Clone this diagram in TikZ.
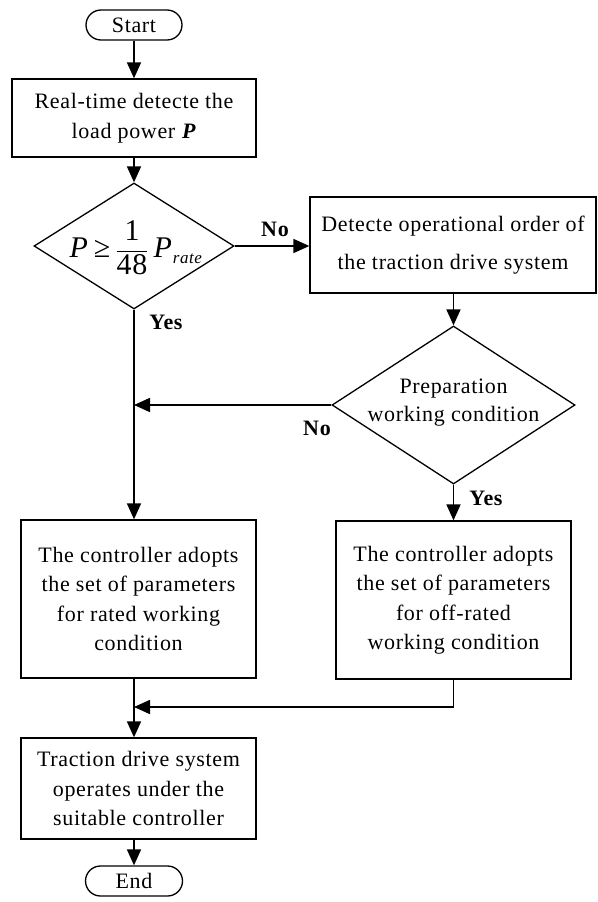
\documentclass[tikz,border=0pt]{standalone}
\usepackage{fontspec}
\setmainfont{Liberation Serif}[LetterSpace=3]
\usetikzlibrary{shapes.geometric,arrows.meta}
\begin{document}
\begin{tikzpicture}[x=1pt,y=-1pt,
  base/.style={draw,line width=1.3pt,inner sep=0pt,align=center,font=\fontsize{22}{29.5}\selectfont},
  term/.style={base,rectangle,rounded corners=15pt,minimum height=30pt},
  proc/.style={base,rectangle},
  dec/.style={base,diamond},
  txt/.style={inner sep=0pt,align=center,font=\fontsize{22}{28}\selectfont},
  arr/.style={line width=1.7pt,-{Triangle[length=16pt,width=14pt]}},
  lab/.style={inner sep=0pt,font=\fontsize{22}{24}\selectfont\bfseries}
]
\useasboundingbox (0,0) rectangle (597,902);
% nodes
\node[term,minimum width=96pt] (start) at (134,25) {Start};
\node[proc,minimum width=244pt,minimum height=78pt] (b1) at (134,118)
  {Real-time detecte the\\load power \textbf{\textit{P}}};
\node[dec,minimum width=200pt,minimum height=126pt] (d1) at (134,246) {};
\node[inner sep=0pt,font=\fontsize{30}{32}\selectfont] (f1) at (136,248)
  {\textit{P}\,≥\,$\displaystyle\frac{\hbox{1}}{\hbox{48}}$\,\textit{P}\raisebox{-0.4ex}{\fontsize{17}{17}\selectfont\textit{rate}}};
\node[proc,minimum width=286pt,minimum height=96pt,font=\fontsize{22}{38}\selectfont] (b2) at (453,245)
  {Detecte operational order of\\the traction drive system};
\node[dec,minimum width=243pt,minimum height=158pt] (d2) at (453.5,405) {};
\node[txt] (t2) at (453.5,403) {Preparation\\working condition};
\node[proc,minimum width=235pt,minimum height=158pt] (b3) at (138.5,599)
  {The controller adopts\\the set of parameters\\for rated working\\condition};
\node[proc,minimum width=235pt,minimum height=158pt] (b4) at (453.5,600)
  {The controller adopts\\the set of parameters\\for off-rated\\working condition};
\node[proc,minimum width=235pt,minimum height=101pt] (b5) at (138.5,788.5)
  {Traction drive system\\operates under the\\suitable controller};
\node[term,minimum width=97pt] (end) at (134,881) {End};
% labels
\node[lab] (no1) at (275,229) {No};
\node[lab] (yes1) at (166,322) {Yes};
\node[lab] (no2) at (317,428) {No};
\node[lab] (yes2) at (486,498) {Yes};
\coordinate (m) at (134,707);
% connectors
\draw[arr] (start) -- (b1);
\draw[arr] (b1) -- (d1);
\draw[arr] (d1.east) -- (b2.west |- d1.east);
\draw[arr] (b2.south -| d2.north) -- (d2.north);
\draw[arr] (d1.south) -- (d1.south |- b3.north);
\draw[arr] (d2.west) -- (d2.west -| d1.south);
\draw[arr] (d2.south) -- (b4.north -| d2.south);
\draw[arr] (b3.south -| d1.south) -- (b5.north -| d1.south);
\draw[arr] (b4.south) |- (m);
\draw[arr] (b5.south -| end.north) -- (end.north);
\end{tikzpicture}
\end{document}
